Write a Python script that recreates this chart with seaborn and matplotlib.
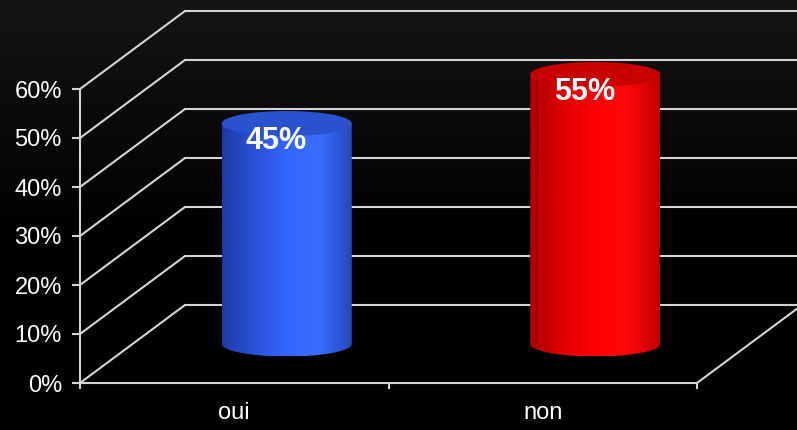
import numpy as np
import matplotlib
matplotlib.use("Agg")
import matplotlib.pyplot as plt
from matplotlib.colors import LinearSegmentedColormap
from matplotlib.patches import Ellipse, Polygon
import seaborn as sns

# données
categories = ["oui", "non"]
values = [45, 55]
value_labels = ["45%", "55%"]
y_ticks = [0, 10, 20, 30, 40, 50, 60]
y_tick_labels = ["0%", "10%", "20%", "30%", "40%", "50%", "60%"]

# couleurs des cylindres : bord sombre -> reflet -> bord
body_colors = [
    ["#1d3aa6", "#2b52d6", "#3366ff", "#3a6dff", "#2448bc"],
    ["#a80000", "#e00000", "#ff0000", "#ff0808", "#c00000"],
]
top_colors = ["#2a52cf", "#c80000"]
grid_color = "#d4d4d4"

sns.set_theme(style="dark")
plt.rcParams["font.family"] = ["Liberation Sans Narrow", "Liberation Sans", "DejaVu Sans"]

W, H, DPI = 797, 430, 100
fig = plt.figure(figsize=(W / DPI, H / DPI), dpi=DPI, facecolor="black")

# fond dégradé
bg = fig.add_axes([0, 0, 1, 1], zorder=-1)
bg.imshow(np.linspace(0, 1, 256).reshape(-1, 1), aspect="auto", extent=(0, 1, 0, 1),
          cmap=LinearSegmentedColormap.from_list("bg", ["#151515", "#0b0b0b", "#020202", "#000000", "#000000"]))
bg.axis("off")

# axe principal : plan avant en coordonnées de données
px_x = 308.5   # pixels par catégorie
px_y = 4.9     # pixels par point de %
ax = fig.add_axes([80 / W, 47 / H, 717 / W, 383 / H])
ax.set_facecolor("none")
ax.grid(False)
xmax = -0.5 + 717 / px_x
ymax = 383 / px_y

dx = 105 / px_x   # profondeur 3D
dy = 78 / px_y
cyl_w = 130 / px_x
ell_h = 25 / px_y

# mur du fond + diagonales
for v in y_ticks:
    ax.plot([-0.5, -0.5 + dx], [v, v + dy], color=grid_color, lw=1.5, zorder=1)
    ax.plot([-0.5 + dx, xmax + 0.1], [v + dy, v + dy], color=grid_color, lw=1.5, zorder=1)
ax.plot([1.5, 1.5 + dx], [0, dy], color=grid_color, lw=1.5, zorder=1, clip_on=False)

sns.barplot(x=categories, y=values, hue=categories, palette=[c[2] for c in body_colors],
            width=cyl_w, errorbar=None, legend=False, ax=ax)

t = np.linspace(0, -np.pi, 80)
for i, p in enumerate(list(ax.patches)):
    w = p.get_width()
    xc = p.get_x() + w / 2 + dx / 2
    base = dy / 2
    top = base + p.get_height()
    p.set_visible(False)

    arc = np.column_stack([xc + w / 2 * np.cos(t), base + ell_h / 2 * np.sin(t)])
    verts = np.vstack([[[xc - w / 2, top], [xc + w / 2, top]], arc])
    clip = Polygon(verts, closed=True, fill=False, lw=0)
    ax.add_patch(clip)

    cmap = LinearSegmentedColormap.from_list(f"c{i}", body_colors[i])
    im = ax.imshow(np.linspace(0, 1, 256).reshape(1, -1), cmap=cmap, aspect="auto",
                   extent=(xc - w / 2, xc + w / 2, base - ell_h / 2, top), zorder=3)
    im.set_clip_path(clip)
    ax.add_patch(Ellipse((xc, top), w, ell_h, facecolor=top_colors[i], edgecolor="none", zorder=4))
    ax.text(xc - 0.035, top - 3.6, value_labels[i], ha="center", va="center", color="white",
            fontsize=22, fontweight="bold", zorder=5)

# axes avant
for s in ["top", "right"]:
    ax.spines[s].set_visible(False)
for s in ["left", "bottom"]:
    ax.spines[s].set_visible(True)
    ax.spines[s].set_color(grid_color)
    ax.spines[s].set_linewidth(1.5)
ax.spines["left"].set_bounds(0, 60)
ax.spines["bottom"].set_bounds(-0.5, 1.5)

ax.set_yticks(y_ticks, y_tick_labels)
ax.tick_params(axis="y", length=6, width=1.5, color=grid_color, labelcolor="white",
               labelsize=17, pad=7, left=True)
ax.set_xticks([0, 1], categories)
ax.set_xticks([-0.5, 0.5, 1.5], minor=True)
ax.tick_params(axis="x", which="major", length=0, labelcolor="white", labelsize=17, pad=14)
ax.tick_params(axis="x", which="minor", length=4, width=1.5, color=grid_color, bottom=True)
ax.set_xlabel("")
ax.set_ylabel("")

ax.set_xlim(-0.5, xmax)
ax.set_ylim(0, ymax)

fig.savefig("out.png", dpi=DPI, facecolor="black")
